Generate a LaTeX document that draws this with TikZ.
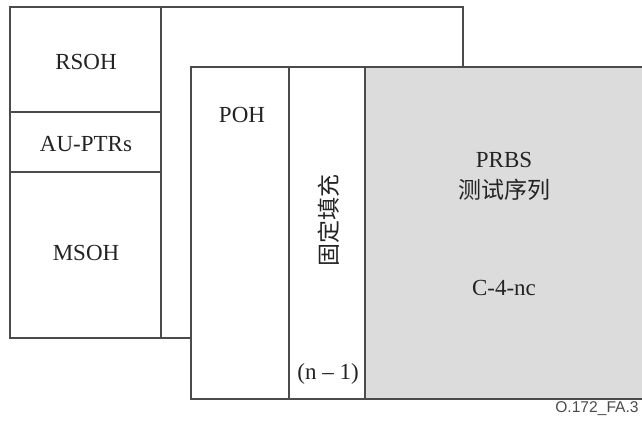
\documentclass[tikz,border=0pt]{standalone}
\usepackage{fontspec}
\setmainfont{Liberation Serif}
\newfontfamily\cjkfont{Noto Sans CJK SC}
\newfontfamily\tagfont{Liberation Sans}
\usetikzlibrary{positioning}
\definecolor{framegray}{RGB}{75,75,75}
\definecolor{prbsfill}{RGB}{220,220,220}
\definecolor{inkgray}{RGB}{35,35,35}

\begin{document}
\begin{tikzpicture}[
  x=0.5pt, y=-0.5pt,
  frame/.style={draw=framegray, line width=0.75pt},
  lbl/.style={font=\fontsize{11.5}{13}\selectfont, text=inkgray, inner sep=0pt},
  cjk/.style={font=\fontsize{11.5}{13}\selectfont\cjkfont, text=inkgray, inner sep=0pt},
  tag/.style={font=\fontsize{7.8}{9}\selectfont\tagfont, text=framegray, inner sep=0pt}
]
  \useasboundingbox (0,0) rectangle (642,427);

  %% STM-N frame (back)
  \draw[frame] (10,7) rectangle (463,338);
  \draw[frame] (161,7) -- (161,338);
  \draw[frame] (10,112) -- (161,112);
  \draw[frame] (10,172) -- (161,172);

  %% test frame (front)
  \draw[frame, fill=white]    (191,67) rectangle (365,399);
  \draw[frame, fill=prbsfill] (365,67) rectangle (644,399);
  \draw[frame] (289,67) -- (289,399);

  \node[lbl] (rsoh)  at (86,62)   {RSOH};
  \node[lbl] (auptr) at (86,144)  {AU-PTRs};
  \node[lbl] (msoh)  at (86,253)  {MSOH};
  \node[lbl] (poh)   at (242,115) {POH};
  \node[cjk, rotate=90] (fixfill) at (329,220) {固定填充};
  \node[lbl] (nless) at (328,374) {(n – 1)};
  \node[lbl] (prbs)  at (504,160) {PRBS};
  \node[cjk, below=5.5pt of prbs] (seq) {测试序列};
  \node[lbl] (c4nc)  at (504,288) {C-4-nc};
  \node[tag, anchor=east] (figid) at (639,409) {O.172\_FA.3};
\end{tikzpicture}
\end{document}
